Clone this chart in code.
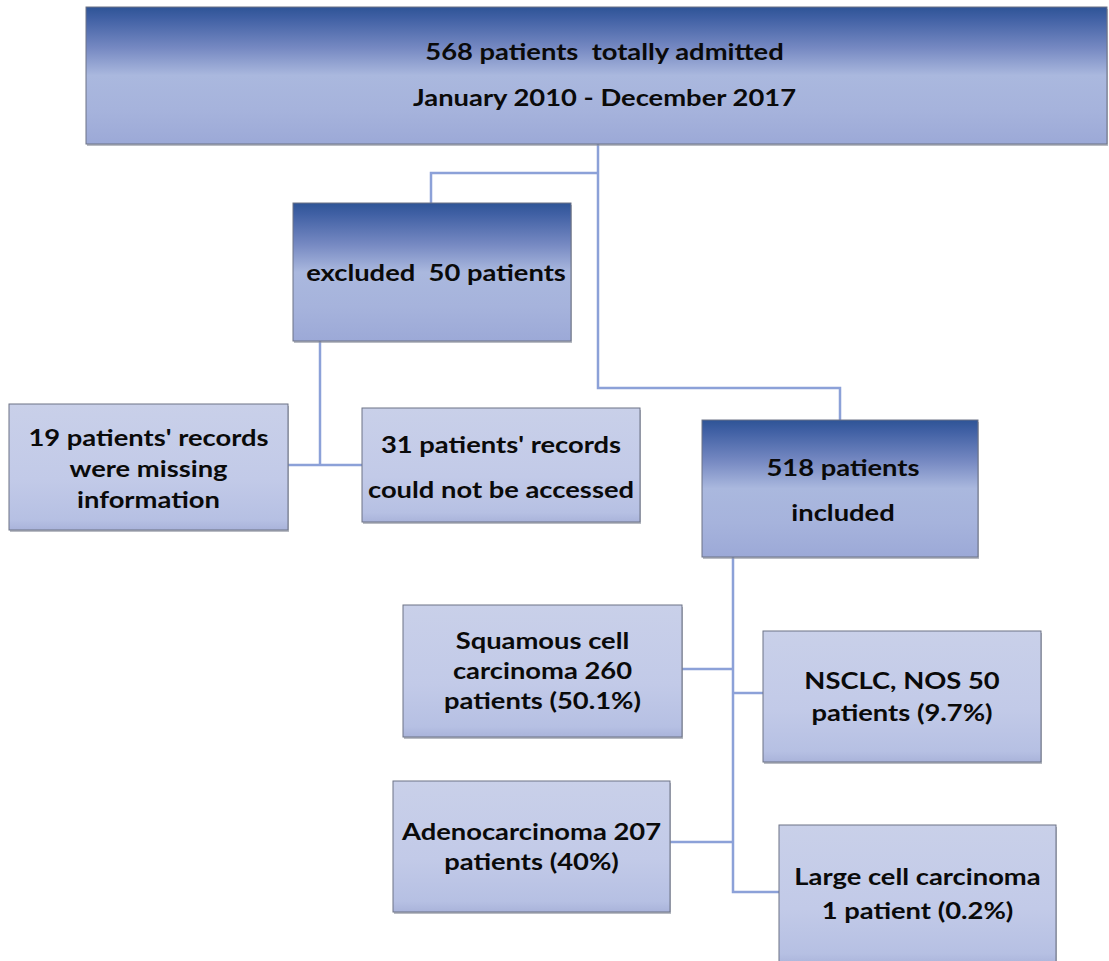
import React from 'react';

// flowchart content
const nodeIds = ['total', 'excluded', 'missing', 'noAccess', 'included', 'squamous', 'nsclc', 'adeno', 'large'];
const nodeLines: string[][] = [
  ['568 patients  totally admitted', 'January 2010 - December 2017'],
  ['excluded  50 patients'],
  ["19 patients' records", 'were missing', 'information'],
  ["31 patients' records", 'could not be accessed'],
  ['518 patients', 'included'],
  ['Squamous cell', 'carcinoma 260', 'patients (50.1%)'],
  ['NSCLC, NOS 50', 'patients (9.7%)'],
  ['Adenocarcinoma 207', 'patients (40%)'],
  ['Large cell carcinoma', '1 patient (0.2%)'],
];
const nodeKinds = ['dark', 'dark', 'light', 'light', 'dark', 'light', 'light', 'light', 'light'];

// layout (pixels)
const layout: Record<string, { x: number; y: number; w: number; h: number; lineGap: number; cy: number; dx: number }> = {
  total: { x: 86, y: 7, w: 1021, h: 137, lineGap: 46, cy: 74, dx: 8 },
  excluded: { x: 293, y: 203, w: 278, h: 138, lineGap: 0, cy: 272, dx: 4 },
  missing: { x: 9, y: 404, w: 279, h: 126, lineGap: 31, cy: 468, dx: 0 },
  noAccess: { x: 362, y: 408, w: 278, h: 114, lineGap: 45, cy: 466, dx: 0 },
  included: { x: 702, y: 420, w: 276, h: 137, lineGap: 45, cy: 489, dx: 3 },
  squamous: { x: 403, y: 605, w: 279, h: 132, lineGap: 30, cy: 670, dx: 0 },
  nsclc: { x: 763, y: 631, w: 278, h: 131, lineGap: 32, cy: 696, dx: 0 },
  adeno: { x: 393, y: 781, w: 277, h: 131, lineGap: 30, cy: 846, dx: 0 },
  large: { x: 779, y: 825, w: 277, h: 140, lineGap: 34, cy: 893, dx: 0 },
};

const connectors: [number, number][][] = [
  [[598, 144], [598, 388], [840, 388], [840, 420]],
  [[598, 173], [431, 173], [431, 203]],
  [[320, 341], [320, 465]],
  [[288, 465], [362, 465]],
  [[733, 557], [733, 892], [779, 892]],
  [[682, 669], [733, 669]],
  [[733, 693], [763, 693]],
  [[670, 842], [733, 842]],
];

const width = 1109;
const height = 961;
const font = 'Lato, "Open Sans", sans-serif';

export default function App() {
  return (
    <svg width={width} height={height} style={{ position: 'absolute', left: 0, top: 0, background: '#fff' }}>
      <defs>
        <linearGradient id="darkFill" x1="0" y1="0" x2="0" y2="1">
          <stop offset="0" stopColor="#2e5496" />
          <stop offset="0.08" stopColor="#4060a4" />
          <stop offset="0.3" stopColor="#7689c2" />
          <stop offset="0.5" stopColor="#aab8de" />
          <stop offset="0.75" stopColor="#a6b3dc" />
          <stop offset="1" stopColor="#9ca9d7" />
        </linearGradient>
        <linearGradient id="lightFill" x1="0" y1="0" x2="0" y2="1">
          <stop offset="0" stopColor="#c9d0e9" />
          <stop offset="0.6" stopColor="#c2cae8" />
          <stop offset="0.92" stopColor="#b6c0e3" />
          <stop offset="1" stopColor="#a9b3da" />
        </linearGradient>
      </defs>
      {connectors.map((pts, i) => (
        <polyline key={i} points={pts.map(p => p.join(',')).join(' ')} fill="none" stroke="#8ca1d8" strokeWidth={2.5} />
      ))}
      {nodeIds.map((id, i) => {
        const b = layout[id];
        const lines = nodeLines[i];
        const cx = b.x + b.w / 2 + b.dx;
        return (
          <g key={id}>
            <rect x={b.x + 1} y={b.y + 2} width={b.w} height={b.h} fill="#8a8f9c" opacity={0.6} />
            <rect
              x={b.x}
              y={b.y}
              width={b.w}
              height={b.h}
              fill={nodeKinds[i] === 'dark' ? 'url(#darkFill)' : 'url(#lightFill)'}
              stroke="#6d7385"
              strokeWidth={1}
            />
            {lines.map((t, j) => (
              <text
                key={j}
                transform={`translate(${cx},${b.cy + (j - (lines.length - 1) / 2) * b.lineGap}) scale(1.19,1)`}
                textAnchor="middle"
                dominantBaseline="central"
                fontFamily={font}
                fontWeight="bold"
                fontSize={23}
                fill="#0a0a0a"
                style={{ whiteSpace: 'pre' }}
              >
                {t}
              </text>
            ))}
          </g>
        );
      })}
    </svg>
  );
}
